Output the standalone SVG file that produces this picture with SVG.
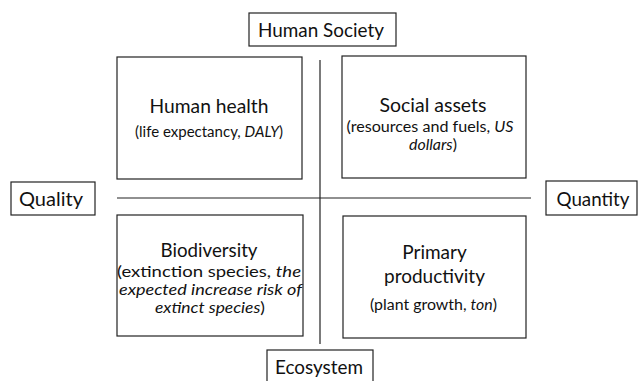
<svg xmlns="http://www.w3.org/2000/svg" width="638" height="381" viewBox="0 0 638 381">
<style>
.box{fill:#fff;stroke:#222;stroke-width:1.2}
.ln{stroke:#222;stroke-width:1.2;fill:none}
text{font-family:Lato,"Liberation Sans",sans-serif;fill:#111;text-anchor:middle}
.t{font-size:19px}
.s{font-size:15.5px}
.l{font-size:19px}
</style>
<rect width="638" height="381" fill="#fff"/>
<g id="connectors">
<line class="ln" x1="320" y1="60" x2="320" y2="344"/>
<line class="ln" x1="117" y1="198" x2="531" y2="198"/>
</g>
<g id="human-society"><rect class="box" x="249" y="13" width="147" height="33"/><text class="l" x="321" y="37" textLength="126" lengthAdjust="spacingAndGlyphs">Human Society</text></g>
<g id="ecosystem"><rect class="box" x="267" y="350" width="106" height="40"/><text class="l" x="319" y="374" textLength="88" lengthAdjust="spacingAndGlyphs">Ecosystem</text></g>
<g id="quality"><rect class="box" x="11" y="182" width="84" height="33"/><text class="l" x="51" y="206" textLength="64" lengthAdjust="spacingAndGlyphs">Quality</text></g>
<g id="quantity"><rect class="box" x="546" y="181" width="91" height="34"/><text class="l" x="593" y="206" textLength="73" lengthAdjust="spacingAndGlyphs">Quantity</text></g>
<g id="human-health"><rect class="box" x="117" y="57" width="185" height="122"/>
<text class="t" x="209" y="113" textLength="119" lengthAdjust="spacingAndGlyphs">Human health</text>
<text class="s" x="209" y="137" textLength="148" lengthAdjust="spacingAndGlyphs">(life expectancy, <tspan font-style="italic">DALY</tspan>)</text></g>
<g id="social-assets"><rect class="box" x="342" y="56" width="184" height="122"/>
<text class="t" x="433" y="112" textLength="107" lengthAdjust="spacingAndGlyphs">Social assets</text>
<text class="s" x="430" y="132" textLength="167" lengthAdjust="spacingAndGlyphs">(resources and fuels, <tspan font-style="italic">US</tspan></text>
<text class="s" x="433" y="150" textLength="48" lengthAdjust="spacingAndGlyphs"><tspan font-style="italic">dollars</tspan>)</text></g>
<g id="biodiversity"><rect class="box" x="117" y="215" width="186" height="121"/>
<text class="t" x="209" y="257" textLength="97" lengthAdjust="spacingAndGlyphs">Biodiversity</text>
<text class="s" x="209" y="277" textLength="184" lengthAdjust="spacingAndGlyphs">(extinction species,  <tspan font-style="italic">the</tspan></text>
<text class="s" x="210.5" y="295" font-style="italic" textLength="183" lengthAdjust="spacingAndGlyphs">expected increase risk of</text>
<text class="s" x="210" y="313" textLength="110" lengthAdjust="spacingAndGlyphs"><tspan font-style="italic">extinct species</tspan>)</text></g>
<g id="primary-productivity"><rect class="box" x="343" y="216" width="183" height="122"/>
<text class="t" x="434.5" y="259">Primary</text>
<text class="t" x="434.5" y="283">productivity</text>
<text class="s" x="433.5" y="310" textLength="127" lengthAdjust="spacingAndGlyphs">(plant growth, <tspan font-style="italic">ton</tspan>)</text></g>
</svg>
